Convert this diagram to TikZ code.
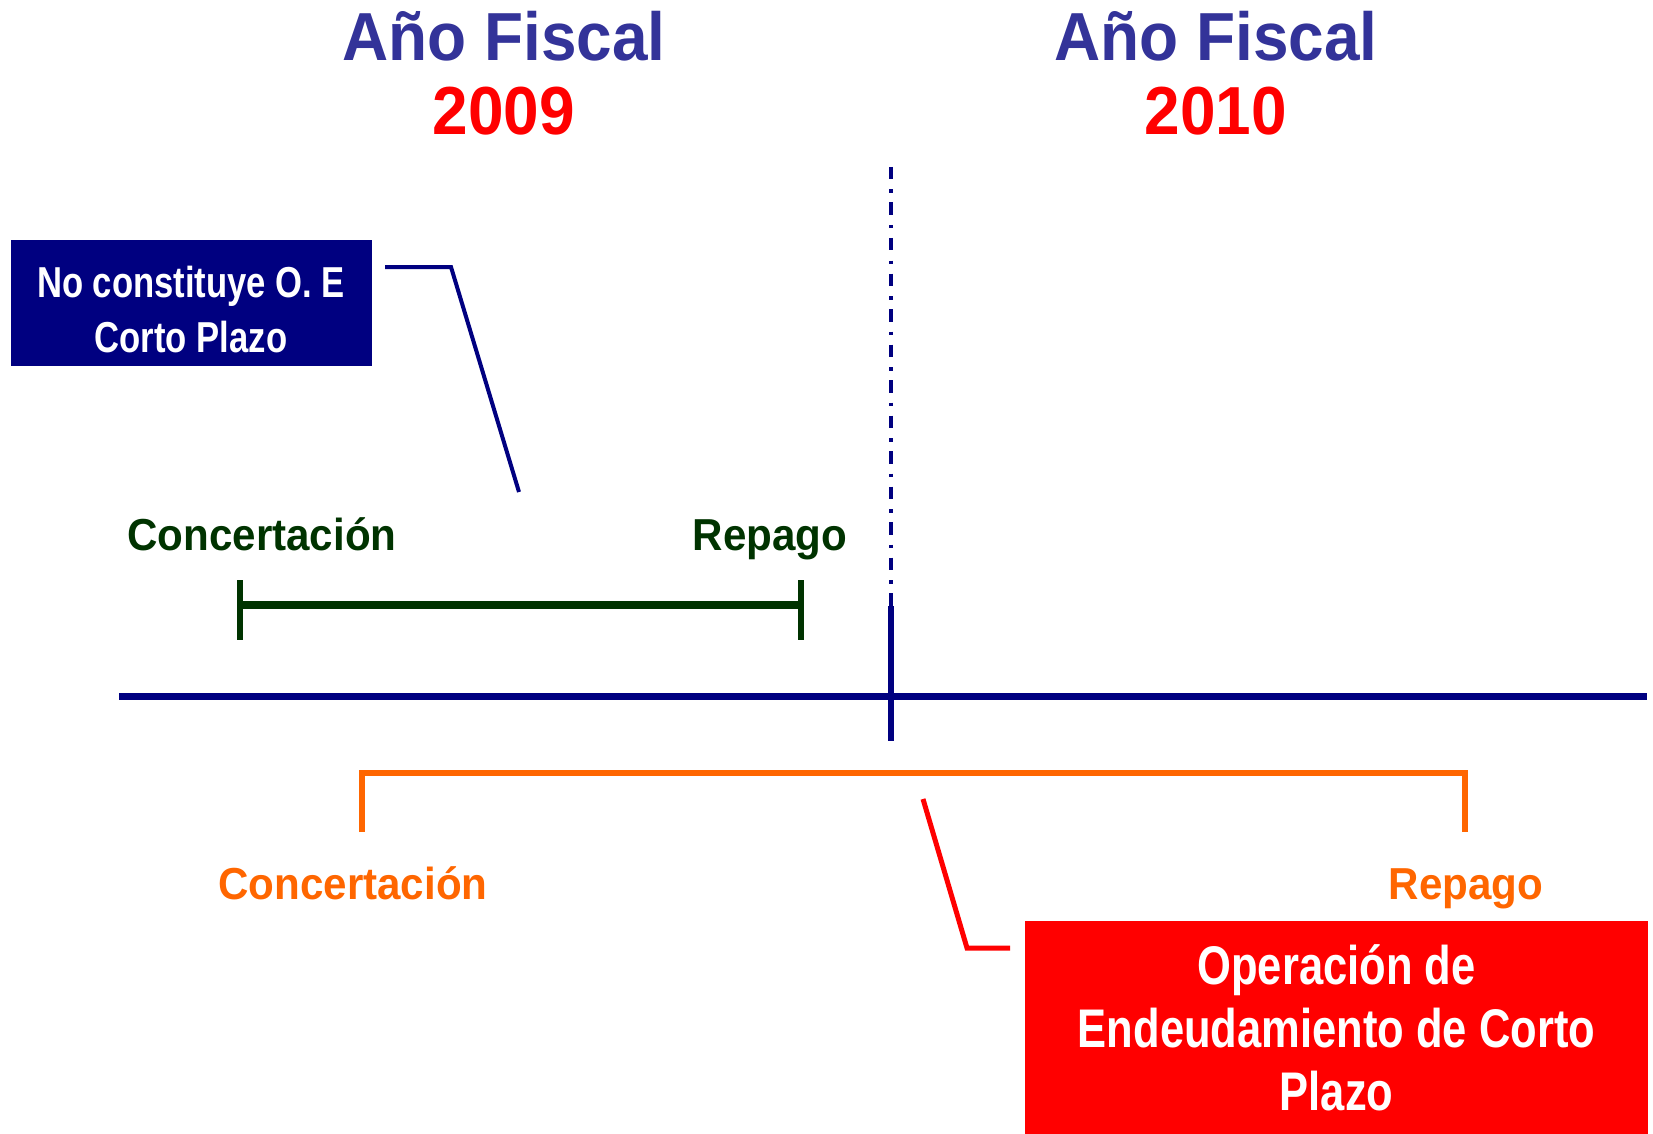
\documentclass[tikz,border=0pt]{standalone}
\usepackage{fontspec}
\setmainfont{Liberation Sans}
\newfontfamily\headfont[FakeStretch=0.94]{Liberation Sans}
\newfontfamily\boxfont[FakeStretch=0.8]{Liberation Sans}
\definecolor{titleblue}{RGB}{51,51,153}
\definecolor{navy}{RGB}{0,0,128}
\definecolor{darkgreen}{RGB}{0,51,0}
\definecolor{orangeline}{RGB}{255,102,0}
\begin{document}
\begin{tikzpicture}[x=0.5pt,y=-0.5pt]
	\tikzset{title/.style = {anchor=base,font=\headfont\bfseries\fontsize{34}{40}\selectfont}}
	\tikzset{tag/.style = {anchor=base,font=\headfont\bfseries\fontsize{22.4}{27}\selectfont}}
	\tikzset{infobox/.style = {inner sep=0pt,align=center,text=white}}
	\useasboundingbox (0,0) rectangle (1653,1134);
	% titles
	\node[title,text=titleblue] (fy1) at (504,61) {Año Fiscal};
	\node[title,text=red] (yr1) at (504,135) {2009};
	\node[title,text=titleblue] (fy2) at (1216,61) {Año Fiscal};
	\node[title,text=red] (yr2) at (1216,135) {2010};
	% timeline
	\coordinate (dtop) at (891,167);
	\coordinate (dmid) at (891,606);
	\coordinate (dbot) at (891,741);
	\coordinate (axl) at (119,696);
	\coordinate (axr) at (1647,696);
	\draw[navy,line width=1.65pt,dash pattern=on 6.25pt off 5pt on 1.75pt off 4.75pt] (dtop) -- (dmid);
	\draw[navy,line width=3pt] (dmid) -- (dbot);
	\draw[navy,line width=3.5pt] (axl) -- (axr);
	% short operation
	\node[tag,text=darkgreen] (conc1) at (262,550) {Concertación};
	\node[tag,text=darkgreen] (rep1) at (770,550) {Repago};
	\coordinate (g1) at (240,605);
	\coordinate (g2) at (801,605);
	\draw[darkgreen,line width=3.65pt] (g1) -- (g2);
	\draw[darkgreen,line width=3pt] (g1) ++(0,-25) -- ++(0,60);
	\draw[darkgreen,line width=3pt] (g2) ++(0,-25) -- ++(0,60);
	\node[infobox,fill=navy,minimum width=180.5pt,minimum height=63pt,
		font=\boxfont\bfseries\fontsize{21.65}{27.5}\selectfont] (nocp) at (191,303)
		{\rule{0pt}{22pt}No constituye O. E\\Corto Plazo};
	\coordinate (c1a) at (385,267);
	\coordinate (c1b) at (451,267);
	\coordinate (c1c) at (519,492);
	\draw[navy,line width=2pt] (c1a) -- (c1b) -- (c1c);
	% long operation
	\coordinate (o1) at (362,773);
	\coordinate (o2) at (1465,773);
	\draw[orangeline,line width=3.2pt] (o1) ++(0,59) -- (o1) -- (o2) -- ++(0,59);
	\node[tag,text=orangeline] (conc2) at (353,899) {Concertación};
	\node[tag,text=orangeline] (rep2) at (1466,899) {Repago};
	\node[infobox,fill=red,minimum width=311.5pt,minimum height=106.5pt,
		font=\boxfont\bfseries\fontsize{27.2}{31.5}\selectfont] (oecp) at (1336.5,1027.5)
		{Operación de\\Endeudamiento de Corto\\Plazo};
	\coordinate (r1) at (923,799);
	\coordinate (r2) at (967,948);
	\coordinate (r3) at (1010,948);
	\draw[red,line width=2.5pt] (r1) -- (r2) -- (r3);
\end{tikzpicture}
\end{document}
